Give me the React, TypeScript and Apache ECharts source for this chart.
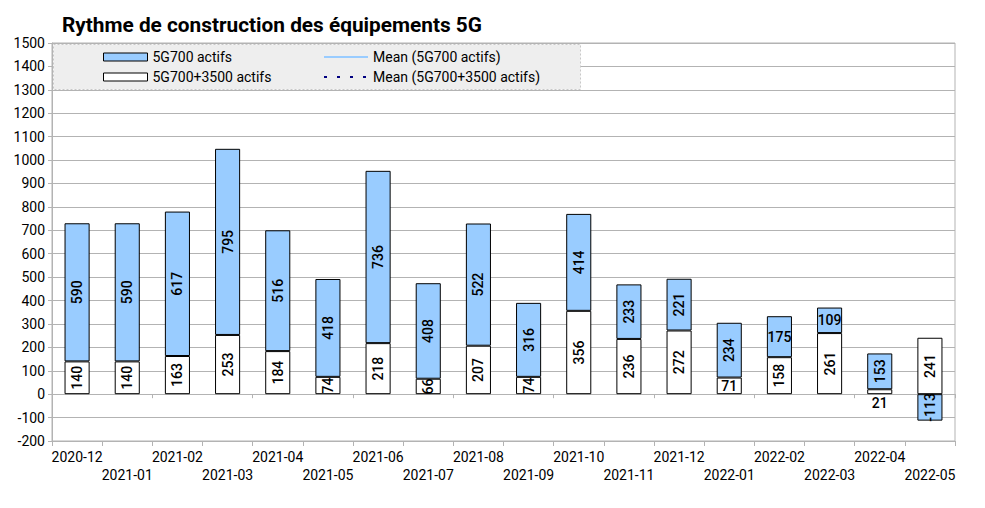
import { useEffect, useRef } from 'react';
import * as echarts from 'echarts';

// Months shown on the x axis
const months = [
    '2020-12', '2021-01', '2021-02', '2021-03', '2021-04', '2021-05',
    '2021-06', '2021-07', '2021-08', '2021-09', '2021-10', '2021-11',
    '2021-12', '2022-01', '2022-02', '2022-03', '2022-04', '2022-05',
];

// Sites with 5G700 + 3500 active (white bars, bottom of the stack)
const actifs700And3500 = [140, 140, 163, 253, 184, 74, 218, 66, 207, 74, 356, 236, 272, 71, 158, 261, 21, 241];

// Sites with 5G700 active (blue bars, stacked on top)
const actifs700 = [590, 590, 617, 795, 516, 418, 736, 408, 522, 316, 414, 233, 221, 234, 175, 109, 153, -113];

// Labels that are written flat instead of turned up
const flatWhite = [13, 16];
const flatBlue = [14, 15];
// Labels that sit under the bar
const belowWhite = [16];

const FONT = 'Roboto, "Liberation Sans", sans-serif';

const App = () => {
    const chartRef = useRef<HTMLDivElement>(null);

    useEffect(() => {
        if (!chartRef.current) return;
        // the page keeps the browser's 8px margin otherwise
        document.body.style.margin = '0';
        const chart = echarts.init(chartRef.current, undefined, { renderer: 'svg' });

        const labelFor = (i: number, flat: number[], below: number[]) => ({
            rotate: flat.includes(i) ? 0 : 90,
            position: below.includes(i) ? 'bottom' : 'inside',
            distance: 2,
        });

        const legendText = { fontFamily: FONT, fontSize: 14, color: '#000' };

        chart.setOption({
            animation: false,
            backgroundColor: '#ffffff',
            textStyle: { fontFamily: FONT },
            title: {
                text: 'Rythme de construction des équipements 5G',
                left: 57,
                top: 9,
                textStyle: { fontFamily: FONT, fontSize: 20.8, fontWeight: 'bold', color: '#000' },
            },
            grid: {
                left: 52,
                right: 30,
                top: 43,
                bottom: 67,
                show: true,
                borderColor: '#b3b3b3',
                borderWidth: 1,
            },
            graphic: [
                {
                    type: 'rect',
                    left: 53,
                    top: 44,
                    shape: { width: 527, height: 45 },
                    style: { fill: '#eeeeee', stroke: '#c8c8c8', lineDash: [2, 2], lineWidth: 1 },
                    z: 3,
                },
            ],
            legend: [
                {
                    data: ['5G700 actifs', '5G700+3500 actifs'],
                    orient: 'vertical',
                    left: 98,
                    top: 45,
                    icon: 'rect',
                    itemWidth: 44,
                    itemHeight: 8,
                    itemGap: 6,
                    itemStyle: { borderColor: '#000', borderWidth: 1 },
                    textStyle: legendText,
                    z: 4,
                },
                {
                    data: ['Mean (5G700 actifs)', 'Mean (5G700+3500 actifs)'],
                    orient: 'vertical',
                    left: 318,
                    top: 45,
                    itemWidth: 44,
                    itemHeight: 8,
                    itemGap: 6,
                    // hide the round marker, keep the line
                    itemStyle: { opacity: 0 },
                    textStyle: legendText,
                    z: 4,
                },
            ],
            xAxis: [
                {
                    type: 'category',
                    data: months,
                    boundaryGap: true,
                    axisLine: { onZero: false, lineStyle: { color: '#b3b3b3' } },
                    axisTick: { show: true, length: 5, lineStyle: { color: '#b3b3b3' } },
                    axisLabel: {
                        interval: 0,
                        color: '#000',
                        fontSize: 14,
                        margin: 7,
                        lineHeight: 18,
                        formatter: (v: string, i: number) => (i % 2 === 1 ? '\n' + v : v),
                    },
                    splitLine: { show: false },
                },
                {
                    // second axis: just the small ticks along the zero line
                    type: 'category',
                    data: months,
                    position: 'bottom',
                    axisLine: { onZero: true, show: true, lineStyle: { color: '#b3b3b3' } },
                    axisTick: { show: true, length: 4, lineStyle: { color: '#b3b3b3' } },
                    axisLabel: { show: false },
                    splitLine: { show: false },
                },
            ],
            yAxis: {
                type: 'value',
                min: -200,
                max: 1500,
                interval: 100,
                axisLine: { show: true, lineStyle: { color: '#b3b3b3' } },
                axisTick: { show: true, length: 4, lineStyle: { color: '#b3b3b3' } },
                axisLabel: { color: '#000', fontSize: 14, margin: 7, formatter: (v: number) => String(v) },
                splitLine: { lineStyle: { color: '#b3b3b3' } },
            },
            series: [
                {
                    name: '5G700+3500 actifs',
                    type: 'bar',
                    stack: 'total',
                    barWidth: '50%',
                    itemStyle: { color: '#ffffff', borderColor: '#000', borderWidth: 1 },
                    label: { show: true, color: '#000', fontSize: 14, fontWeight: 500, fontFamily: FONT },
                    data: actifs700And3500.map((v, i) => ({ value: v, label: labelFor(i, flatWhite, belowWhite) })),
                    z: 2,
                },
                {
                    name: '5G700 actifs',
                    type: 'bar',
                    stack: 'total',
                    barWidth: '50%',
                    itemStyle: { color: '#99ccff', borderColor: '#000', borderWidth: 1 },
                    label: { show: true, color: '#000', fontSize: 14, fontWeight: 500, fontFamily: FONT },
                    data: actifs700.map((v, i) => ({ value: v, label: labelFor(i, flatBlue, []) })),
                    z: 2,
                },
                {
                    name: 'Mean (5G700 actifs)',
                    type: 'line',
                    symbol: 'none',
                    lineStyle: { color: '#99ccff', width: 1 },
                    itemStyle: { color: '#99ccff' },
                    data: [],
                },
                {
                    name: 'Mean (5G700+3500 actifs)',
                    type: 'line',
                    symbol: 'none',
                    lineStyle: { color: '#000080', width: 3, type: [3, 10] },
                    itemStyle: { color: '#000080' },
                    data: [],
                },
            ],
        });

        return () => chart.dispose();
    }, []);

    return <div ref={chartRef} style={{ width: 985, height: 508 }} />;
};

export default App;
